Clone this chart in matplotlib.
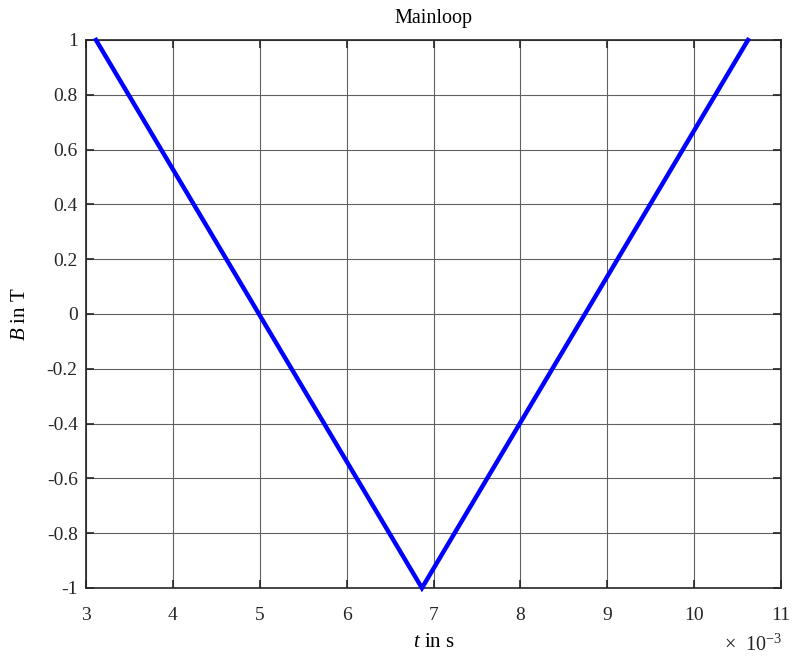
import matplotlib.pyplot as plt

# B(t) hysteresis main loop: three corner points of the triangle
t_ms = [3.115, 6.867, 10.62]
B = [1.0, -1.0, 1.0]

x_ticks = [3, 4, 5, 6, 7, 8, 9, 10, 11]
y_ticks = [-1, -0.8, -0.6, -0.4, -0.2, 0, 0.2, 0.4, 0.6, 0.8, 1]
y_labels = ["-1", "-0.8", "-0.6", "-0.4", "-0.2", "0", "0.2", "0.4", "0.6", "0.8", "1"]

plt.rcParams['font.family'] = ['Liberation Serif', 'DejaVu Serif']
plt.rcParams['mathtext.fontset'] = 'custom'
plt.rcParams['mathtext.rm'] = 'Liberation Serif'
plt.rcParams['mathtext.it'] = 'Liberation Serif:italic'

fig = plt.figure(figsize=(7.95, 6.57), dpi=100)
ax = fig.add_axes([86 / 795, 1 - 588 / 657, (781 - 86) / 795, (588 - 40) / 657])

t = [v * 1e-3 for v in t_ms]
ax.plot(t, B, color='#0000ff', linewidth=3.2, solid_joinstyle='miter', clip_on=False, zorder=3)

ax.set_xlim(3e-3, 11e-3)
ax.set_ylim(-1, 1)
ax.set_xticks([v * 1e-3 for v in x_ticks])
ax.set_xticklabels([str(v) for v in x_ticks], fontsize=14, color='#262626')
ax.set_yticks(y_ticks)
ax.set_yticklabels(y_labels, fontsize=14, color='#262626')

ax.grid(True, color='#606060', linewidth=0.8)
ax.set_axisbelow(True)
for s in ax.spines.values():
    s.set_color('#262626')
    s.set_linewidth(1.2)
ax.tick_params(direction='in', length=6, width=1.2, color='#262626',
               top=True, right=True)
ax.tick_params(axis='x', pad=14)
ax.tick_params(axis='y', pad=6)

ax.set_title("Mainloop", fontsize=14.5, pad=12)
ax.set_xlabel("$\\it{t}$ in s", fontsize=15, labelpad=6)
ax.set_ylabel("$\\it{B}$ in T", fontsize=15, labelpad=12)
fig.text(724 / 795, 1 - 651 / 657, "×  10$^{\\mathregular{-3}}$", fontsize=14.5,
         color='#262626', va='baseline', ha='left')

fig.savefig("out.png", dpi=100)
